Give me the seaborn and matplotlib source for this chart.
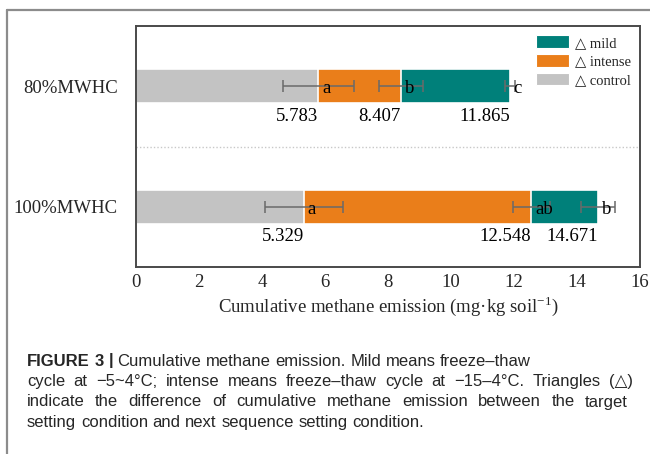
import matplotlib
matplotlib.use("Agg")
import matplotlib.pyplot as plt
from matplotlib.lines import Line2D
from matplotlib.patches import Patch
import numpy as np
import pandas as pd
import seaborn as sns

# ---- data -------------------------------------------------------------
conditions = ["80%MWHC", "100%MWHC"]
cum_control = [5.783, 5.329]     # cumulative emission, control
cum_intense = [8.407, 12.548]    # cumulative emission, intense freeze-thaw
cum_mild = [11.865, 14.671]      # cumulative emission, mild freeze-thaw
err_control = [1.13, 1.23]
err_intense = [0.70, 0.59]
err_mild = [0.16, 0.55]
letters_control = ["a", "a"]
letters_intense = ["b", "ab"]
letters_mild = ["c", "b"]
x_ticks = [0, 2, 4, 6, 8, 10, 12, 14, 16]
legend_labels = ["\u25b3 mild", "\u25b3 intense", "\u25b3 control"]
x_label = "Cumulative methane emission (mg\u00b7kg soil$^{\\mathregular{-1}}$)"
caption_bold = "FIGURE 3 |"
caption_lines = [
    "Cumulative methane emission. Mild means freeze\u2013thaw",
    "cycle at \u22125~4\u00b0C; intense means freeze\u2013thaw cycle at \u221215\u20134\u00b0C. Triangles (\u25b3)",
    "indicate the difference of cumulative methane emission between the target",
    "setting condition and next sequence setting condition.",
]

df = pd.DataFrame({
    "condition": conditions,
    "control": cum_control,
    "intense": cum_intense,
    "mild": cum_mild,
})

# ---- style ------------------------------------------------------------
sns.set_style("white")
serif = ["Liberation Serif", "DejaVu Serif"]
plt.rcParams["font.family"] = serif
plt.rcParams["mathtext.fontset"] = "custom"
plt.rcParams["mathtext.rm"] = "Liberation Serif"

C_MILD = "#00807A"
C_INTENSE = "#EA7E1A"
C_CONTROL = "#C3C3C3"
C_ERR = "#6A6A6A"
C_SPINE = "#4A4A4A"

W, H = 650, 454
fig = plt.figure(figsize=(W / 100, H / 100), dpi=100)
ax = fig.add_axes([136 / W, 1 - 267 / H, 504 / W, 241 / H])

# stacked bars: totals drawn first, shorter segments on top
bar_h = 0.285
for col, colr in [("mild", C_MILD), ("intense", C_INTENSE), ("control", C_CONTROL)]:
    sns.barplot(data=df, x=col, y="condition", orient="h", color=colr,
                width=bar_h, edgecolor="white", linewidth=1.2,
                errorbar=None, saturation=1, ax=ax)

pos = np.arange(len(conditions))
for vals, errs in [(cum_control, err_control), (cum_intense, err_intense),
                   (cum_mild, err_mild)]:
    ax.errorbar(vals, pos, xerr=errs, fmt="none", ecolor=C_ERR,
                elinewidth=1.1, capsize=4.5, capthick=1.1, zorder=5)

# significance letters and value labels
for vals, lets in [(cum_control, letters_control), (cum_intense, letters_intense),
                   (cum_mild, letters_mild)]:
    for p, v, l in zip(pos, vals, lets):
        ax.text(v + 0.12, p + 0.02, l, ha="left", va="center",
                fontsize=13.5, color="black", zorder=6)
        ax.text(v, p + 0.25, f"{v:.3f}", ha="right", va="center",
                fontsize=13.5, color="black", zorder=6)

# dotted separator between groups
ax.axhline(0.5, color="#C8C8C8", lw=1.0, ls=(0, (1, 1.5)), zorder=1)

ax.set_xlim(0, 16)
ax.set_ylim(1.5, -0.5)
ax.set_xticks(x_ticks)
ax.set_xticklabels([str(t) for t in x_ticks])
ax.set_xlabel(x_label, fontsize=13.5, labelpad=2)
ax.set_ylabel("")
ax.tick_params(axis="x", direction="in", length=4, width=1.2, color=C_SPINE,
               labelsize=13.5, pad=5)
ax.tick_params(axis="y", length=0, labelsize=13.5, pad=13)
for s in ax.spines.values():
    s.set_visible(True)
    s.set_color(C_SPINE)
    s.set_linewidth(1.4)

handles = [Patch(facecolor=c, edgecolor="white", linewidth=0.8)
           for c in (C_MILD, C_INTENSE, C_CONTROL)]
leg = ax.legend(handles, legend_labels, loc="upper right",
                bbox_to_anchor=(1.0, 1.0), frameon=False,
                prop={"family": ["Liberation Serif", "DejaVu Sans"], "size": 10.5},
                handlelength=2.3, handleheight=0.95, labelspacing=0.3,
                handletextpad=0.35, borderaxespad=0.25)

# outer card frame
fig.add_artist(Line2D([7 / W, 7 / W], [0, 1 - 10 / H], transform=fig.transFigure,
                      color="#8C8C8C", lw=1.6))
fig.add_artist(Line2D([7 / W, 1], [1 - 10 / H, 1 - 10 / H], transform=fig.transFigure,
                      color="#8C8C8C", lw=1.6))

# ---- caption (justified paragraph, first and last lines ragged) ----------
cap_font = ["Liberation Sans", "DejaVu Sans"]
cap_size = 12
renderer = fig.canvas.get_renderer()


def text_width(s, weight="normal"):
    t = fig.text(0, 0, s, fontsize=cap_size, family=cap_font, weight=weight)
    w = t.get_window_extent(renderer).width
    t.remove()
    return w


SPACE = text_width("a a") - text_width("aa")


def word_run(words, x_start, y_px, right_px=None, weights=None):
    """Place words on one baseline; spread them to right_px if given."""
    weights = weights or ["normal"] * len(words)
    arts, widths = [], []
    for w, wt in zip(words, weights):
        t = fig.text(0, 1 - y_px / H, w, fontsize=cap_size, family=cap_font,
                     weight=wt, va="baseline", ha="left")
        arts.append(t)
        widths.append(t.get_window_extent(renderer).width)
    gap = SPACE
    if right_px is not None and len(words) > 1:
        gap = max(SPACE, (right_px - x_start - sum(widths)) / (len(words) - 1))
    x = x_start
    for t, wd in zip(arts, widths):
        t.set_x(x / W)
        x += wd + gap


x0 = 27
baselines = [365.5, 386, 406.5, 427]
bold_words = caption_bold.split(" ")
first_words = caption_lines[0].split(" ")
word_run(bold_words + first_words, x0, baselines[0],
         weights=["bold"] * len(bold_words) + ["normal"] * len(first_words))
word_run(caption_lines[1].split(" "), x0, baselines[1], right_px=633)
word_run(caption_lines[2].split(" "), x0, baselines[2], right_px=628)
word_run(caption_lines[3].split(" "), x0, baselines[3])

fig.savefig("out.png", dpi=100)
